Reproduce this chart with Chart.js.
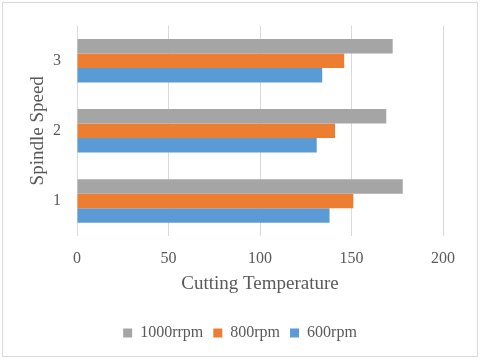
<!DOCTYPE html>
<html>
<head>
<meta charset="utf-8">
<script src="https://cdn.jsdelivr.net/npm/chart.js@4"></script>
<style>
  body { margin: 0; background: #fff; }
  #wrap { position: relative; width: 480px; height: 361px; }
  #frame { position: absolute; left: 2px; top: 2px; width: 476px; height: 355px;
           box-sizing: border-box; border: 1px solid #d9d9d9; pointer-events: none; }
</style>
</head>
<body>
<div id="wrap">
  <canvas id="barchart" width="480" height="361"></canvas>
  <div id="frame"></div>
</div>
<script>
const speeds = ["1", "2", "3"];
const rpm1000 = [178, 169, 172.5];
const rpm800 = [151, 141, 146];
const rpm600 = [138, 131, 134];
const xTicks = [0, 50, 100, 150, 200];

const textColor = "#595959";
const serif = "'Liberation Serif', 'Times New Roman', serif";

const data = {
  labels: speeds,
  datasets: [
    { label: "1000rrpm", data: rpm1000, backgroundColor: "#a5a5a5" },
    { label: "800rpm", data: rpm800, backgroundColor: "#ed7d31" },
    { label: "600rpm", data: rpm600, backgroundColor: "#5b9bd5" }
  ]
};

const config = {
  type: "bar",
  data,
  options: {
    indexAxis: "y",
    responsive: false,
    animation: false,
    categoryPercentage: 0.62,
    barPercentage: 1,
    layout: { padding: { top: 23, right: 0, bottom: 10, left: 0 } },
    plugins: {
      tooltip: { enabled: false },
      legend: {
        position: "bottom",
        labels: {
          color: textColor,
          font: { family: serif, size: 16 },
          boxWidth: 9,
          boxHeight: 9,
          padding: 10
        }
      }
    },
    scales: {
      x: {
        min: 0,
        max: 200,
        afterBuildTicks: (axis) => { axis.ticks = xTicks.map(v => ({ value: v })); },
        afterFit: (axis) => { axis.height = 79; },
        grid: { color: "#d9d9d9", drawTicks: false },
        border: { display: false },
        ticks: { color: textColor, font: { family: serif, size: 16 }, padding: 13 },
        title: {
          display: true,
          text: "Cutting Temperature",
          color: textColor,
          font: { family: serif, size: 19 },
          padding: { top: 0, bottom: 20 }
        }
      },
      y: {
        reverse: true,
        afterFit: (axis) => { axis.width = 77; },
        grid: { display: false, drawTicks: false },
        border: { display: false },
        ticks: { color: textColor, font: { family: serif, size: 16 }, padding: 16 },
        title: {
          display: true,
          text: "Spindle Speed",
          color: textColor,
          font: { family: serif, size: 19 },
          padding: { top: 27, bottom: 0 }
        }
      },
      // empty right-hand strip so the legend centres on the whole canvas
      yRight: {
        type: "category",
        position: "right",
        afterFit: (axis) => { axis.width = 37; },
        grid: { display: false, drawTicks: false },
        border: { display: false },
        ticks: { display: false }
      }
    }
  }
};

const chartBar = new Chart("barchart", config);
</script>
</body>
</html>
